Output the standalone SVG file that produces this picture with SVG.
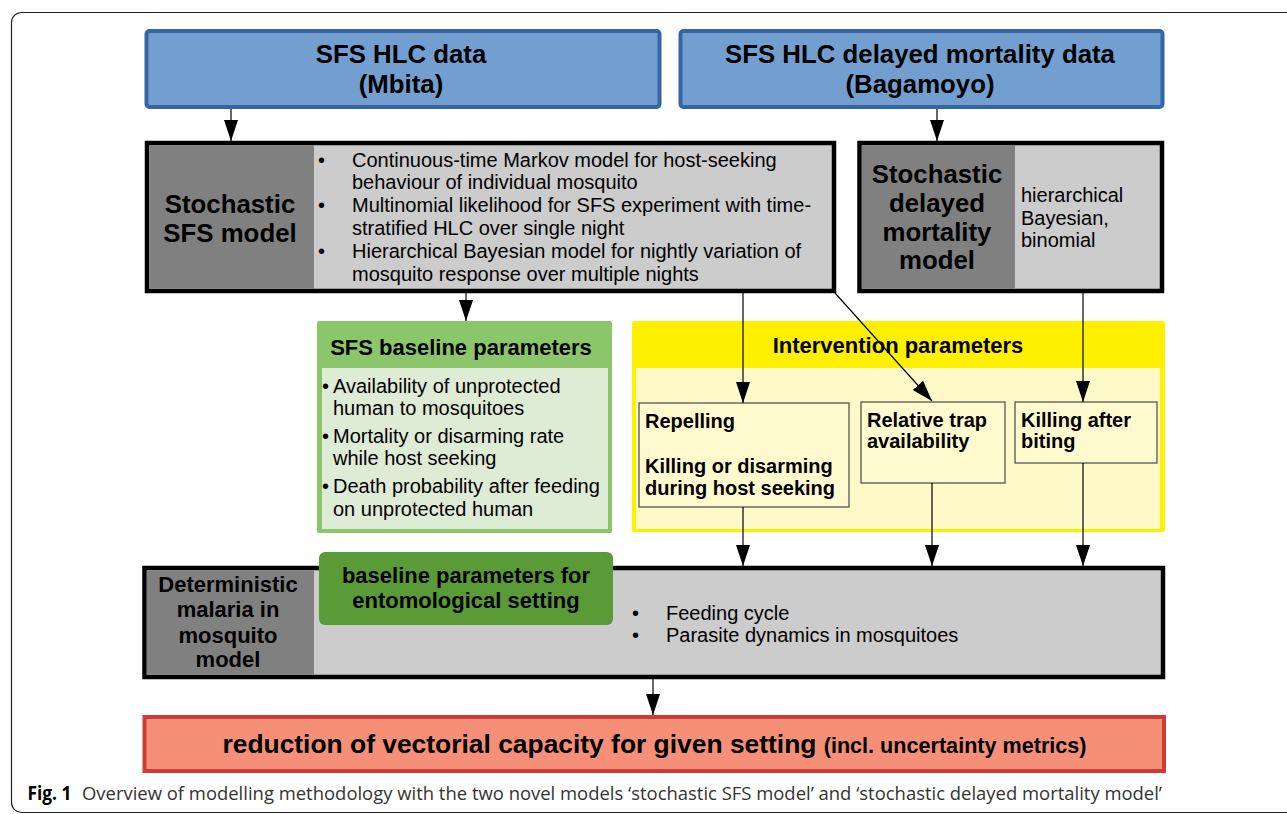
<svg xmlns="http://www.w3.org/2000/svg" width="1287" height="814" viewBox="0 0 1287 814">
<style>
text{font-family:"Liberation Sans",Arial,sans-serif;fill:#000}
.b{font-weight:bold}
.t26{font-size:25.8px;font-weight:bold}
.t22{font-size:22px;font-weight:bold}
.t20{font-size:20px}
.t20b{font-size:20px;font-weight:bold}
.mid{text-anchor:middle}
.blue{fill:#729fcf;stroke:#3465a4;stroke-width:4}
.blk{fill:#cccccc;stroke:#000;stroke-width:4.5}
.dk{fill:#808080}
.sub{fill:#fffacd;stroke:#555;stroke-width:1.3}
.conn{stroke:#000;stroke-width:1.2;fill:none}
</style>
<defs>
<marker id="ah" markerUnits="userSpaceOnUse" markerWidth="22" markerHeight="16" refX="21" refY="7.5" orient="auto">
<path d="M0,0.5 L21,7.5 L0,14.5 z" fill="#000"/>
</marker>
</defs>
<rect x="11.5" y="12.5" width="1300" height="800" rx="10" fill="none" stroke="#222" stroke-width="1.2"/>

<g id="hlc-mbita">
<rect class="blue" x="146.5" y="31" width="513" height="76" rx="3"/>
<text class="t26 mid" x="401" y="63">SFS HLC data</text>
<text class="t26 mid" x="401" y="93">(Mbita)</text>
</g>

<g id="hlc-bagamoyo">
<rect class="blue" x="680.5" y="31" width="482" height="76" rx="3"/>
<text class="t26 mid" x="920" y="63">SFS HLC delayed mortality data</text>
<text class="t26 mid" x="920" y="93">(Bagamoyo)</text>
</g>

<g id="stochastic-sfs">
<rect class="blk" x="147" y="143" width="687" height="148"/>
<rect class="dk" x="149.3" y="145.3" width="164.7" height="143.4"/>
<text class="t26 mid" x="230" y="213">Stochastic</text>
<text class="t26 mid" x="230" y="242">SFS model</text>
<g class="t20">
<text x="318" y="166.5">•</text><text x="352" y="166.5">Continuous-time Markov model for host-seeking</text>
<text x="352" y="189.3">behaviour of individual mosquito</text>
<text x="318" y="212.1">•</text><text x="352" y="212.1">Multinomial likelihood for SFS experiment with time-</text>
<text x="352" y="234.9">stratified HLC over single night</text>
<text x="318" y="257.7">•</text><text x="352" y="257.7">Hierarchical Bayesian model for nightly variation of</text>
<text x="352" y="280.5">mosquito response over multiple nights</text>
</g>
</g>

<g id="stochastic-delayed">
<rect class="blk" x="859.5" y="143" width="302.5" height="148"/>
<rect class="dk" x="861.8" y="145.3" width="153.2" height="143.4"/>
<text class="t26 mid" x="937" y="183">Stochastic</text>
<text class="t26 mid" x="937" y="212">delayed</text>
<text class="t26 mid" x="937" y="241">mortality</text>
<text class="t26 mid" x="937" y="269">model</text>
<text class="t20" x="1021" y="202">hierarchical</text>
<text class="t20" x="1021" y="225">Bayesian,</text>
<text class="t20" x="1021" y="247">binomial</text>
</g>

<g id="sfs-baseline">
<rect x="317" y="321" width="295" height="212" rx="2" fill="#8cc66a"/>
<rect x="322" y="368" width="286" height="161" fill="#dfecd5"/>
<text class="t22 mid" x="461" y="355">SFS baseline parameters</text>
<g class="t20">
<text x="322" y="393">•</text><text x="333" y="393">Availability of unprotected</text>
<text x="333" y="415">human to mosquitoes</text>
<text x="322" y="443">•</text><text x="333" y="443">Mortality or disarming rate</text>
<text x="333" y="465">while host seeking</text>
<text x="322" y="493">•</text><text x="333" y="493">Death probability after feeding</text>
<text x="333" y="516">on unprotected human</text>
</g>
</g>

<g id="intervention">
<rect x="632" y="321" width="533" height="211" rx="2" fill="#fff000"/>
<rect x="636" y="368" width="524" height="161" fill="#fff9c8"/>
<text class="t22 mid" x="898" y="353">Intervention parameters</text>
</g>

<g id="repelling">
<rect class="sub" x="639" y="403" width="210" height="104"/>
<text class="t20b" x="645" y="428">Repelling</text>
<text class="t20b" x="645" y="473">Killing or disarming</text>
<text class="t20b" x="645" y="495">during host seeking</text>
</g>

<g id="trap">
<rect class="sub" x="861" y="402" width="144" height="81"/>
<text class="t20b" x="867" y="427">Relative trap</text>
<text class="t20b" x="867" y="448">availability</text>
</g>

<g id="killing-biting">
<rect class="sub" x="1015" y="402" width="142" height="61"/>
<text class="t20b" x="1021" y="427">Killing after</text>
<text class="t20b" x="1021" y="448">biting</text>
</g>

<g id="deterministic">
<rect class="blk" x="144.5" y="568" width="1018.5" height="109"/>
<rect class="dk" x="146.8" y="570.3" width="167.2" height="104.4"/>
<text class="t22 mid" x="228" y="592">Deterministic</text>
<text class="t22 mid" x="228" y="617">malaria in</text>
<text class="t22 mid" x="228" y="643">mosquito</text>
<text class="t22 mid" x="228" y="667">model</text>
<g class="t20">
<text x="632" y="620">•</text><text x="666" y="620">Feeding cycle</text>
<text x="632" y="642">•</text><text x="666" y="642">Parasite dynamics in mosquitoes</text>
</g>
</g>

<g id="baseline-entomological">
<rect x="319" y="552" width="294" height="73" rx="6" fill="#5a9b37"/>
<text class="t22 mid" x="466" y="583">baseline parameters for</text>
<text class="t22 mid" x="466" y="608">entomological setting</text>
</g>

<g id="vectorial-capacity">
<rect x="144.5" y="717" width="1019.5" height="54" fill="#f58f77" stroke="#d13b36" stroke-width="4"/>
<text class="t26 mid" x="654.5" y="753" style="font-size:26.4px">reduction of vectorial capacity for given setting <tspan style="font-size:21.6px">(incl. uncertainty metrics)</tspan></text>
</g>

<g id="connectors" class="conn">
<line x1="231" y1="109" x2="231" y2="141" marker-end="url(#ah)"/>
<line x1="937" y1="109" x2="937" y2="141" marker-end="url(#ah)"/>
<line x1="466" y1="293" x2="466" y2="321" marker-end="url(#ah)"/>
<line x1="743" y1="293" x2="743" y2="403" marker-end="url(#ah)"/>
<line x1="835" y1="293" x2="932" y2="401" marker-end="url(#ah)"/>
<line x1="1083" y1="293" x2="1083" y2="402" marker-end="url(#ah)"/>
<line x1="743" y1="507" x2="743" y2="566" marker-end="url(#ah)"/>
<line x1="932" y1="483" x2="932" y2="566" marker-end="url(#ah)"/>
<line x1="1083" y1="463" x2="1083" y2="566" marker-end="url(#ah)"/>
<line x1="653" y1="679" x2="653" y2="715" marker-end="url(#ah)"/>
</g>

<g id="caption">
<text x="27.5" y="800" style="font-family:'Open Sans',sans-serif;font-weight:bold;font-size:19px" textLength="44" lengthAdjust="spacingAndGlyphs">Fig. 1</text>
<text x="82" y="800" style="font-family:'Open Sans',sans-serif;font-size:19px;fill:#333" textLength="1080" lengthAdjust="spacingAndGlyphs">Overview of modelling methodology with the two novel models ‘stochastic SFS model’ and ‘stochastic delayed mortality model’</text>
</g>
</svg>
